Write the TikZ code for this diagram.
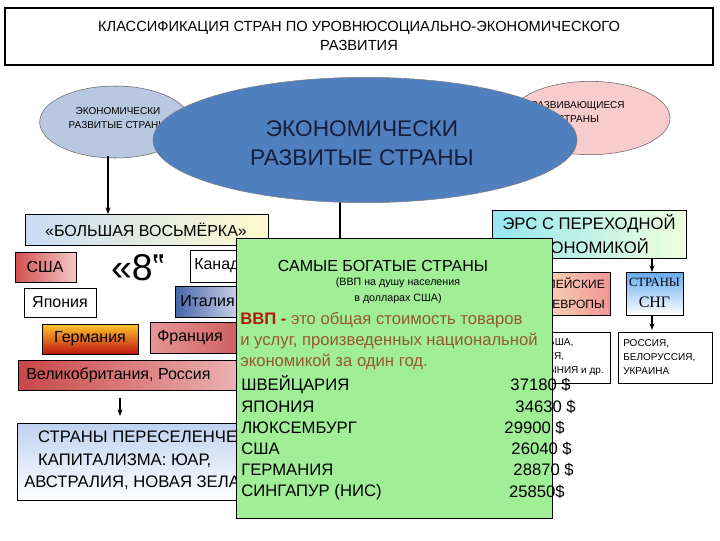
\documentclass[tikz,border=0pt]{standalone}
\usepackage{fontspec}
\setmainfont{Liberation Sans}
\newfontfamily\serifcyr{Liberation Serif}
\usetikzlibrary{shapes.geometric,arrows.meta}
\begin{document}
\begin{tikzpicture}[x=0.75pt,y=-0.75pt,
  bx/.style={draw=black,line width=0.6pt},
  lbl/.style={inner sep=0pt,font=\fontsize{12}{14}\selectfont},
  arr/.style={-{Stealth[length=5pt]},line width=0.8pt}]
\useasboundingbox (0,0) rectangle (720,540);
\fill[white] (0,0) rectangle (720,540);
% title
\draw[bx,line width=1pt] (5,8) rectangle (713,65);
\node[align=center,font=\fontsize{11}{14}\selectfont] (title) at (359,36) {КЛАССИФИКАЦИЯ СТРАН ПО УРОВНЮСОЦИАЛЬНО-ЭКОНОМИЧЕСКОГО\\РАЗВИТИЯ};
% small ellipses
\node[ellipse,draw=black!60,fill={rgb,255:red,184;green,200;blue,224},minimum width=113pt,minimum height=54pt,inner sep=0pt] (le) at (115,122) {};
\node[align=center,font=\fontsize{7.5}{10}\selectfont] (let) at (118,118) {ЭКОНОМИЧЕСКИ\\РАЗВИТЫЕ СТРАНЫ};
\node[ellipse,draw=black!60,fill={rgb,255:red,248;green,204;blue,204},minimum width=120pt,minimum height=55pt,inner sep=0pt] (re) at (590,118) {};
\node[align=center,font=\fontsize{7.5}{10}\selectfont] (ret) at (578,112) {РАЗВИВАЮЩИЕСЯ\\СТРАНЫ};
\coordinate (la) at (108,156);
\coordinate (lb) at (108,214);
\draw[arr] (la) -- (lb);
\coordinate (ca) at (340,200);
\coordinate (cb) at (340,240);
\draw[line width=0.8pt] (ca) -- (cb);
% big ellipse
\node[ellipse,draw=black!50,fill={rgb,255:red,79;green,127;blue,191},minimum width=318pt,minimum height=94pt] (be) at (365,140) {};
\node[align=center,text={rgb,255:red,20;green,30;blue,60},font=\fontsize{17}{22}\selectfont] (bet) at (362,143) {ЭКОНОМИЧЕСКИ\\РАЗВИТЫЕ СТРАНЫ};
% left boxes
\draw[bx,left color={rgb,255:red,200;green,220;blue,245},right color={rgb,255:red,255;green,250;blue,205}] (25,214) rectangle (268,245);
\node[lbl] (g8) at (146,229.5) {«БОЛЬШАЯ ВОСЬМЁРКА»};
\draw[bx,left color={rgb,255:red,210;green,80;blue,80},right color={rgb,255:red,245;green,200;blue,200}] (15,252) rectangle (76,282);
\node[lbl] (usa) at (45,267) {США};
\node[inner sep=0pt,font=\fontsize{28}{28}\selectfont] (eight) at (138,268) {«8‟};
\draw[bx,fill=white] (190,250) rectangle (262,282);
\node[lbl,anchor=west] (can) at (194,266) {Канада};
\draw[bx,fill=white] (24,288) rectangle (96,317);
\node[lbl] (jap) at (60,302.5) {Япония};
\draw[bx,left color={rgb,255:red,70;green,100;blue,170},right color=white] (175,286) rectangle (262,317);
\node[lbl,anchor=west] (ita) at (180,301.5) {Италия};
\draw[bx,top color={rgb,255:red,255;green,200;blue,40},bottom color={rgb,255:red,190;green,20;blue,20}] (42,324) rectangle (138,354);
\node[lbl] (ger) at (90,339) {Германия};
\draw[bx,left color={rgb,255:red,230;green,150;blue,150},right color={rgb,255:red,200;green,80;blue,80}] (150,322) rectangle (262,353);
\node[lbl,anchor=west] (fra) at (157,337.5) {Франция};
\draw[bx,left color={rgb,255:red,200;green,70;blue,70},right color={rgb,255:red,240;green,190;blue,190}] (18,360) rectangle (262,390);
\node[lbl,anchor=west] (gb) at (26,375) {Великобритания, Россия};
\coordinate (a1) at (120,398);
\coordinate (a2) at (120,416);
\draw[arr] (a1) -- (a2);
\draw[bx,top color={rgb,255:red,190;green,210;blue,240},bottom color=white] (17,423) rectangle (262,500);
\node[lbl,anchor=west,align=left,font=\fontsize{12.5}{17}\selectfont] (pers) at (24,461) {\ \ \ СТРАНЫ ПЕРЕСЕЛЕНЧЕСКОГО\\\ \ \ КАПИТАЛИЗМА: ЮАР,\\ АВСТРАЛИЯ, НОВАЯ ЗЕЛАНДИЯ};
% right boxes
\draw[bx,left color={rgb,255:red,150;green,230;blue,240},right color={rgb,255:red,240;green,255;blue,220}] (492,210) rectangle (686,258);
\node[lbl,align=center,font=\fontsize{12.5}{18}\selectfont] (ers) at (589,234) {ЭРС С ПЕРЕХОДНОЙ\\ЭКОНОМИКОЙ};
\coordinate (b1) at (543,258);
\coordinate (b2) at (543,272);
\draw[arr] (b1) -- (b2);
\coordinate (c1) at (652,258);
\coordinate (c2) at (652,272);
\draw[arr] (c1) -- (c2);
\draw[bx,left color={rgb,255:red,255;green,250;blue,200},right color={rgb,255:red,240;green,150;blue,150}] (505,272) rectangle (610,315);
\node[lbl,anchor=east,align=right,font=\fontsize{9}{15}\selectfont] (vost) at (605,293) {ВОСТОЧНОЕВРОПЕЙСКИЕ\\СТРАНЫ ЕВРОПЫ};
\draw[bx,top color={rgb,255:red,100;green,170;blue,240},bottom color=white] (626,272) rectangle (683,315);
\node[lbl,align=center,font=\serifcyr\fontsize{9.5}{16}\selectfont] (sng) at (654.5,293) {СТРАНЫ\\{\fontsize{12}{16}\selectfont СНГ}};
\coordinate (d1) at (652,315);
\coordinate (d2) at (652,330);
\draw[arr] (d1) -- (d2);
\draw[bx,fill=white] (505,332) rectangle (610,383);
\node[lbl,anchor=east,align=left,font=\fontsize{7.5}{10.5}\selectfont] (vl) at (604,357) {ПОЛЬША,\\ЧЕХИЯ,\\РУМЫНИЯ и др.};
\draw[bx,fill=white] (618,332) rectangle (712,383);
\node[lbl,anchor=west,align=left,font=\fontsize{7.5}{10.5}\selectfont] (rl) at (623,357) {РОССИЯ,\\БЕЛОРУССИЯ,\\УКРАИНА};
% green box
\draw[bx,fill={rgb,255:red,160;green,238;blue,150}] (236,238) rectangle (552,518);
\node[lbl,font=\fontsize{12}{14}\selectfont] (rich) at (383,266) {САМЫЕ БОГАТЫЕ СТРАНЫ};
\node[lbl,align=center,font=\fontsize{8}{12}\selectfont] (sub) at (398,291) {(ВВП на душу населения\\в долларах США)};
\node[lbl,anchor=west,align=left,text={rgb,255:red,150;green,90;blue,40},font=\fontsize{12.5}{15.8}\selectfont] (def) at (240,341) {{\color[rgb]{0.7,0.1,0.05}\bfseries ВВП -} это общая стоимость товаров\\и услуг, произведенных национальной\\экономикой за один год.};
\foreach \n/\v/\y/\vx in {ШВЕЙЦАРИЯ/37180 \$/385/571, ЯПОНИЯ/34630 \$/407/576, ЛЮКСЕМБУРГ/29900 \$/428/565, США/26040 \$/449/572, ГЕРМАНИЯ/28870 \$/470/574, СИНГАПУР (НИС)/25850\$/492/565}{
  \node[lbl,anchor=west,font=\fontsize{12.5}{14}\selectfont] at (241,\y) {\n};
  \node[lbl,anchor=east,font=\fontsize{12.5}{14}\selectfont] at (\vx,\y) {\v};
}
\end{tikzpicture}
\end{document}
